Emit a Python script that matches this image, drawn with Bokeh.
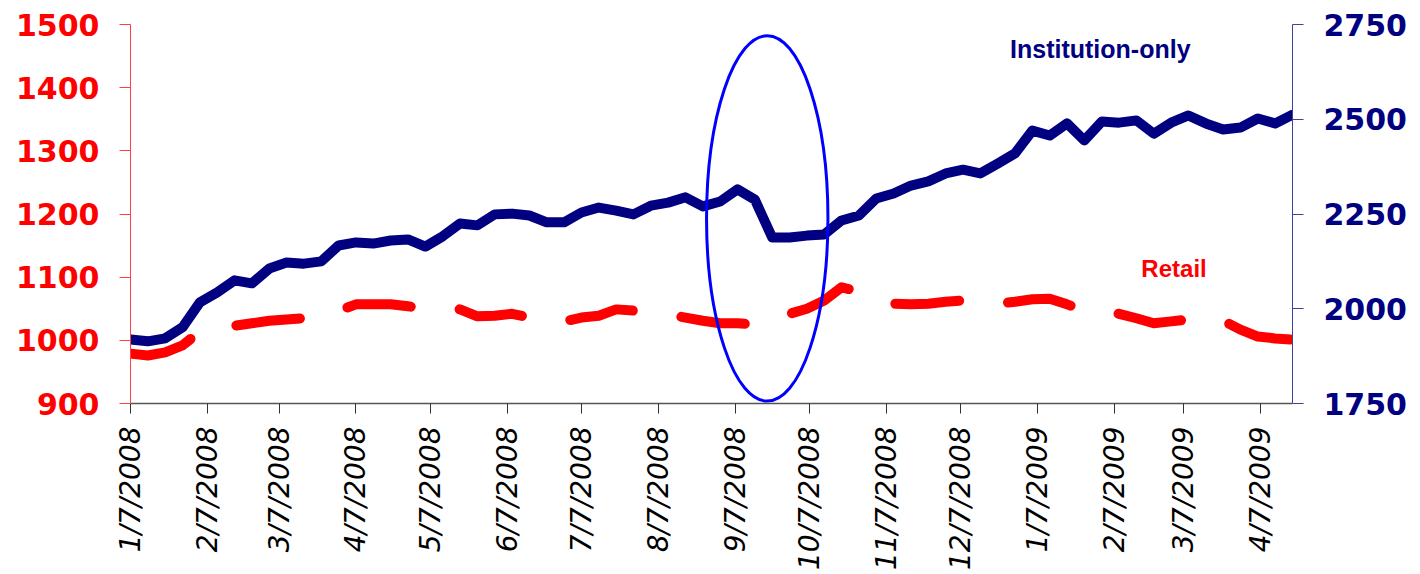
import math
import pandas as pd
from bokeh.plotting import figure
from bokeh.models import Range1d, LinearAxis, FixedTicker, Label
from bokeh.embed import file_html
from bokeh.resources import INLINE

# ---- data ----
start_date = "2008-01-07"
n_weeks = 68
week_dates = pd.date_range(start_date, periods=n_weeks, freq="7D")

institution_only = [1919, 1914, 1922, 1951, 2017, 2043, 2075, 2067, 2106, 2122,
                    2119, 2125, 2167, 2175, 2172, 2180, 2183, 2164, 2191, 2225,
                    2220, 2249, 2251, 2246, 2228, 2228, 2254, 2267, 2259, 2249,
                    2272, 2280, 2294, 2270, 2283, 2315, 2288, 2188, 2188, 2193,
                    2196, 2233, 2246, 2291, 2304, 2325, 2336, 2357, 2367, 2357,
                    2383, 2410, 2470, 2457, 2489, 2444, 2494, 2491, 2497, 2462,
                    2491, 2510, 2489, 2473, 2478, 2502, 2489, 2512]

retail = [979, 976, 981, 992, 1014, 1020, 1023, 1027, 1031, 1033,
          1035, 1039, 1047, 1057, 1057, 1057, 1054, 1050, 1050, 1049,
          1038, 1039, 1042, 1036, 1031, 1030, 1036, 1039, 1049, 1047,
          1044, 1041, 1036, 1031, 1027, 1027, 1025, 1031, 1042, 1050,
          1063, 1084, 1077, 1066, 1058, 1057, 1058, 1061, 1063, 1060,
          1058, 1061, 1065, 1066, 1057, 1047, 1046, 1042, 1035, 1027,
          1030, 1033, 1033, 1031, 1017, 1006, 1003, 1001]

tick_dates = ["2008-01-07", "2008-02-07", "2008-03-07", "2008-04-07", "2008-05-07",
              "2008-06-07", "2008-07-07", "2008-08-07", "2008-09-07", "2008-10-07",
              "2008-11-07", "2008-12-07", "2009-01-07", "2009-02-07", "2009-03-07",
              "2009-04-07"]
tick_labels = ["1/7/2008", "2/7/2008", "3/7/2008", "4/7/2008", "5/7/2008",
               "6/7/2008", "7/7/2008", "8/7/2008", "9/7/2008", "10/7/2008",
               "11/7/2008", "12/7/2008", "1/7/2009", "2/7/2009", "3/7/2009",
               "4/7/2009"]

left_ticks = [900, 1000, 1100, 1200, 1300, 1400, 1500]
right_ticks = [1750, 2000, 2250, 2500, 2750]

# ---- derived x positions (days since start) ----
t0 = pd.Timestamp(start_date)
x_days = [(d - t0).days for d in week_dates]
tick_days = [(pd.Timestamp(d) - t0).days for d in tick_dates]

NAVY = "#000080"
RED = "#ff0000"

p = figure(width=1420, height=574, output_backend="svg", toolbar_location=None,
           x_range=Range1d(0, x_days[-1]), y_range=Range1d(900, 1500),
           min_border_left=130, min_border_right=128, min_border_top=24,
           min_border_bottom=171)
p.extra_y_ranges = {"inst": Range1d(1750, 2750)}
p.xgrid.visible = False
p.ygrid.visible = False
p.outline_line_color = None
p.background_fill_color = "white"
p.border_fill_color = "white"

# bottom axis
xa = p.xaxis[0]
xa.ticker = FixedTicker(ticks=tick_days)
xa.major_label_overrides = {d: lab for d, lab in zip(tick_days, tick_labels)}
xa.major_label_orientation = math.pi / 2
xa.major_label_text_font = "DejaVu Sans"
xa.major_label_text_font_style = "italic"
xa.major_label_text_font_size = "28px"
xa.major_label_text_color = "black"
xa.major_label_standoff = 13
xa.axis_line_color = "#555555"
xa.axis_line_width = 1.5
xa.major_tick_line_color = "#333333"
xa.major_tick_in = 0
xa.major_tick_out = 10
xa.minor_tick_line_color = None

# left axis
ya = p.yaxis[0]
ya.ticker = FixedTicker(ticks=left_ticks)
ya.major_label_text_font = "DejaVu Sans"
ya.major_label_text_font_style = "bold"
ya.major_label_text_font_size = "30px"
ya.major_label_text_color = RED
ya.major_label_standoff = 20
ya.axis_line_color = "#ff4040"
ya.major_tick_line_color = "#ff4040"
ya.major_tick_in = 0
ya.major_tick_out = 11
ya.minor_tick_line_color = None

# right axis
ra = LinearAxis(y_range_name="inst", ticker=FixedTicker(ticks=right_ticks))
ra.major_label_text_font = "DejaVu Sans"
ra.major_label_text_font_style = "bold"
ra.major_label_text_font_size = "30px"
ra.major_label_text_color = NAVY
ra.major_label_standoff = 20
ra.axis_line_color = "#4040a0"
ra.major_tick_line_color = "#4040a0"
ra.major_tick_in = 0
ra.major_tick_out = 11
ra.minor_tick_line_color = None
p.add_layout(ra, "right")

# series
p.line(x_days, institution_only, y_range_name="inst", line_color=NAVY,
       line_width=10, line_join="round", line_cap="round")
p.line(x_days, retail, line_color=RED, line_width=10, line_dash="64 49",
       line_join="round", line_cap="round")

# highlight ellipse (annotation)
p.ellipse(x=[257], y=[1193], width=[49], height=[579], fill_color=None,
          line_color="#0000ff", line_width=3)

p.add_layout(Label(x=355, y=1462, text="Institution-only", text_font="Liberation Sans",
                   text_font_style="bold", text_font_size="25px", text_color=NAVY,
                   text_baseline="middle", text_align="left"))
p.add_layout(Label(x=408, y=1114, text="Retail", text_font="Liberation Sans",
                   text_font_style="bold", text_font_size="24px", text_color=RED,
                   text_baseline="middle", text_align="left"))

open("out.html", "w").write(file_html(p, INLINE))
